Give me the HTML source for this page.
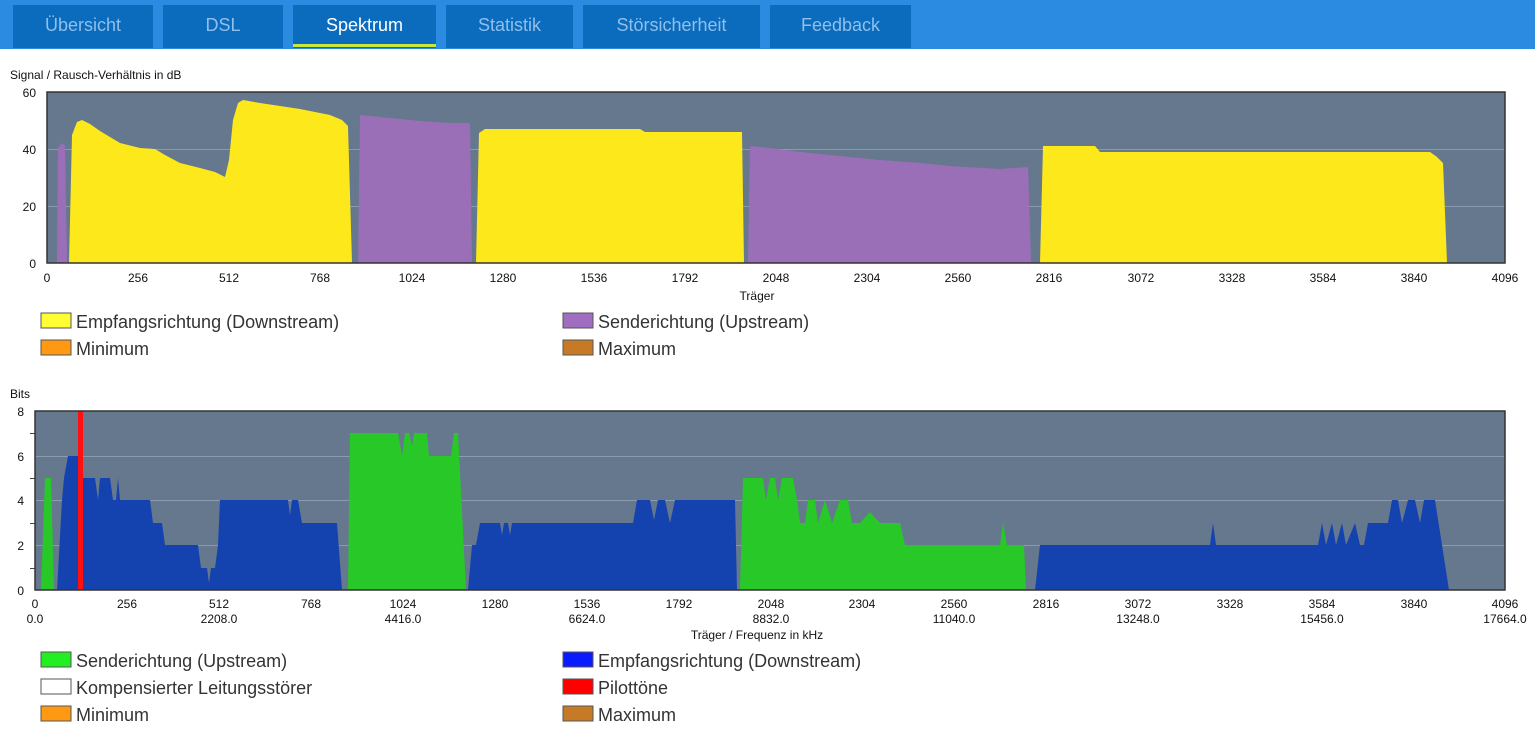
<!DOCTYPE html>
<html><head><meta charset="utf-8"><style>
body{margin:0;width:1535px;height:733px;background:#fff;overflow:hidden;font-family:"Liberation Sans","DejaVu Sans",sans-serif}
.bar{position:absolute;left:0;top:0;width:1535px;height:49px;background:#2a8be0}
.tab{position:absolute;top:5px;height:43px;background:#0b6bbd;color:#8fbfec;font-size:18px;line-height:40px;text-align:center}
.tab.on{color:#fff}
.tab.on:after{content:"";position:absolute;left:0;right:0;bottom:1px;height:3px;background:#c8e63c}
</style></head><body>
<div class="bar"></div>
<div class="tab" style="left:13px;width:140px">Übersicht</div>
<div class="tab" style="left:163px;width:120px">DSL</div>
<div class="tab on" style="left:293px;width:143px">Spektrum</div>
<div class="tab" style="left:446px;width:127px">Statistik</div>
<div class="tab" style="left:583px;width:177px">Störsicherheit</div>
<div class="tab" style="left:770px;width:141px">Feedback</div>
<svg width="1535" height="733" style="position:absolute;left:0;top:0" font-family="Liberation Sans, DejaVu Sans, sans-serif">
<text x="10" y="79" font-size="12" fill="#111">Signal / Rausch-Verhältnis in dB</text>
<rect x="47" y="92" width="1458" height="171" fill="#65788e"/>
<g stroke="#8a9bb0" stroke-width="1"><line x1="47" y1="149.5" x2="1505" y2="149.5"/><line x1="47" y1="206.5" x2="1505" y2="206.5"/></g>
<g fill="#fde81b">
<polygon points="69,263 72,135 77,122 82,120 90,124 100,131 120,143 140,148 155,149 165,155 180,163 200,168 215,172 225,177 229,160 233,120 238,103 243,100 260,103 300,109 330,115 342,120 348,126 352,263"/>
<polygon points="476,263 479,133 485,129 640,129 645,132 742,132 744,263"/>
<polygon points="1040,263 1043,146 1095,146 1100,152 1430,152 1437,157 1443,163 1447,263"/>
</g>
<g fill="#9b6fb8">
<polygon points="57,263 58,148 62,143 65,146 67,263"/>
<polygon points="358,263 360,115 380,117 400,119 420,121 450,123 470,123 472,263"/>
<polygon points="748,263 750,146 770,148 800,152 840,156 880,160 920,163 950,166 1000,169 1028,167 1031,263"/>
</g>
<rect x="47" y="92" width="1458" height="171" fill="none" stroke="#333" stroke-width="1.5"/>
<g font-size="12" fill="#111" text-anchor="end"><text x="36" y="97">60</text><text x="36" y="154">40</text><text x="36" y="211">20</text><text x="36" y="268">0</text></g>
<g font-size="12" fill="#111" text-anchor="middle">
<text x="47" y="282">0</text><text x="138" y="282">256</text><text x="229" y="282">512</text><text x="320" y="282">768</text><text x="412" y="282">1024</text><text x="503" y="282">1280</text><text x="594" y="282">1536</text><text x="685" y="282">1792</text><text x="776" y="282">2048</text><text x="867" y="282">2304</text><text x="958" y="282">2560</text><text x="1049" y="282">2816</text><text x="1141" y="282">3072</text><text x="1232" y="282">3328</text><text x="1323" y="282">3584</text><text x="1414" y="282">3840</text><text x="1505" y="282">4096</text>
<text x="757" y="300">Träger</text></g>
<g font-size="18" fill="#333">
<rect x="41" y="313" width="30" height="15" fill="#ffff33" stroke="#555"/><text x="76" y="328">Empfangsrichtung (Downstream)</text>
<rect x="563" y="313" width="30" height="15" fill="#a06ec0" stroke="#555"/><text x="598" y="328">Senderichtung (Upstream)</text>
<rect x="41" y="340" width="30" height="15" fill="#ff9912" stroke="#555"/><text x="76" y="355">Minimum</text>
<rect x="563" y="340" width="30" height="15" fill="#c77a26" stroke="#555"/><text x="598" y="355">Maximum</text>
</g>
<text x="10" y="398" font-size="12" fill="#111">Bits</text>
<rect x="35" y="411" width="1470" height="179" fill="#65788e"/>
<g stroke="#8a9bb0" stroke-width="1"><line x1="35" y1="456.5" x2="1505" y2="456.5"/><line x1="35" y1="500.5" x2="1505" y2="500.5"/><line x1="35" y1="545.5" x2="1505" y2="545.5"/></g>
<g stroke="#444" stroke-width="1"><line x1="30" y1="433.5" x2="35" y2="433.5"/><line x1="30" y1="478.5" x2="35" y2="478.5"/><line x1="30" y1="523.5" x2="35" y2="523.5"/><line x1="30" y1="568.5" x2="35" y2="568.5"/></g>
<g fill="#28c828">
<polygon points="41,590 45,478 51,478 54,590"/>
<polygon points="348,590 350,433 398,433 402,456 405,433 409,433 412,446 414,433 427,433 429,456 451,456 454,433 458,433 466,590"/>
<polygon points="740,590 743,478 763,478 766,500 770,478 775,478 778,500 782,478 793,478 797,500 800,523 805,523 808,500 815,500 818,523 825,500 832,523 840,500 848,500 852,523 860,523 870,512 880,523 900,523 905,545 1000,545 1003,523 1007,545 1024,545 1026,590"/>
</g>
<g fill="#1443b0">
<polygon points="57,590 62,500 64,478 68,456 78,456 78,478 95,478 98,500 100,478 110,478 113,500 116,500 118,478 120,500 150,500 153,523 162,523 165,545 198,545 201,568 207,568 209,583 211,568 215,568 218,545 220,500 288,500 290,515 292,500 298,500 302,523 337,523 342,590"/>
<polygon points="468,590 472,545 476,545 480,523 500,523 502,535 504,523 508,523 510,535 512,523 633,523 637,500 650,500 654,520 658,500 665,500 670,523 675,500 735,500 737,590"/>
<polygon points="1035,590 1040,545 1210,545 1213,523 1216,545 1318,545 1322,523 1326,545 1332,523 1336,545 1342,523 1346,545 1355,523 1360,545 1364,545 1368,523 1388,523 1392,500 1398,500 1402,523 1408,500 1415,500 1420,523 1424,500 1435,500 1442,545 1449,590"/>
</g>
<rect x="78" y="411" width="5" height="179" fill="#ff1010"/>
<rect x="35" y="411" width="1470" height="179" fill="none" stroke="#333" stroke-width="1.5"/>
<g font-size="12" fill="#111" text-anchor="end"><text x="24" y="416">8</text><text x="24" y="461">6</text><text x="24" y="505">4</text><text x="24" y="550">2</text><text x="24" y="595">0</text></g>
<g font-size="12" fill="#111" text-anchor="middle">
<text x="35" y="608">0</text><text x="127" y="608">256</text><text x="219" y="608">512</text><text x="311" y="608">768</text><text x="403" y="608">1024</text><text x="495" y="608">1280</text><text x="587" y="608">1536</text><text x="679" y="608">1792</text><text x="771" y="608">2048</text><text x="862" y="608">2304</text><text x="954" y="608">2560</text><text x="1046" y="608">2816</text><text x="1138" y="608">3072</text><text x="1230" y="608">3328</text><text x="1322" y="608">3584</text><text x="1414" y="608">3840</text><text x="1505" y="608">4096</text>
<text x="35" y="623">0.0</text><text x="219" y="623">2208.0</text><text x="403" y="623">4416.0</text><text x="587" y="623">6624.0</text><text x="771" y="623">8832.0</text><text x="954" y="623">11040.0</text><text x="1138" y="623">13248.0</text><text x="1322" y="623">15456.0</text><text x="1505" y="623">17664.0</text>
<text x="757" y="639">Träger / Frequenz in kHz</text></g>
<g font-size="18" fill="#333">
<rect x="41" y="652" width="30" height="15" fill="#22ee22" stroke="#555"/><text x="76" y="667">Senderichtung (Upstream)</text>
<rect x="563" y="652" width="30" height="15" fill="#0a1cff" stroke="#555"/><text x="598" y="667">Empfangsrichtung (Downstream)</text>
<rect x="41" y="679" width="30" height="15" fill="#fff" stroke="#555"/><text x="76" y="694">Kompensierter Leitungsstörer</text>
<rect x="563" y="679" width="30" height="15" fill="#ff0000" stroke="#555"/><text x="598" y="694">Pilottöne</text>
<rect x="41" y="706" width="30" height="15" fill="#ff9912" stroke="#555"/><text x="76" y="721">Minimum</text>
<rect x="563" y="706" width="30" height="15" fill="#c77a26" stroke="#555"/><text x="598" y="721">Maximum</text>
</g>
</svg>
</body></html>
